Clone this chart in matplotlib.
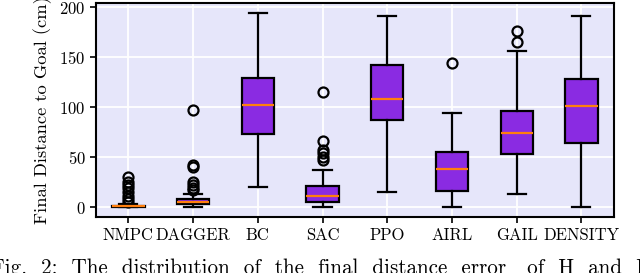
import matplotlib
matplotlib.use("Agg")
import matplotlib.pyplot as plt

# ── style ──────────────────────────────────────────────────────────────
plt.rcParams.update({
    "font.family":               "serif",
    "font.serif":                ["cmr10"],
    "mathtext.fontset":          "cm",
    "axes.formatter.use_mathtext": True,
    "font.size":                 12,
})

# ── data ───────────────────────────────────────────────────────────────
methods = ["NMPC", "DAGGER", "BC", "SAC", "PPO", "AIRL", "GAIL", "DENSITY"]
q1      = [0.0, 3.0, 73, 5.5, 87, 16, 53, 64]
median  = [1.0, 5.5, 102, 11.5, 108, 38, 74, 101]
q3      = [1.5, 8.0, 129, 21, 142, 55, 96, 128]
whislo  = [0.0, 0.0, 20, 0.0, 15, 0.0, 13, 0.0]
whishi  = [3.0, 13.5, 194, 37, 191, 94, 156, 191]
fliers  = [
    [30, 25, 22, 19, 15, 11, 8, 5],
    [97, 42, 40, 25, 22, 19, 17],
    [],
    [115, 66, 57, 54, 50, 47],
    [],
    [144],
    [176, 165],
    [],
]

C_BG     = "#E6E6FA"
C_BOX    = "#8A2BE2"
C_MEDIAN = "#FF7F0E"

stats = [dict(label=m, q1=a, med=b, q3=c, whislo=d, whishi=e, fliers=f)
         for m, a, b, c, d, e, f in zip(methods, q1, median, q3,
                                        whislo, whishi, fliers)]

# ── figure ─────────────────────────────────────────────────────────────
fig = plt.figure(figsize=(6.4, 2.73), dpi=100)
ax = fig.add_axes([0.15, 0.205, 0.809, 0.784])
ax.set_facecolor(C_BG)
ax.grid(True, color="white", lw=1.3)
ax.set_axisbelow(True)

ax.bxp(stats, widths=0.5, patch_artist=True, capwidths=0.28,
       boxprops=dict(facecolor=C_BOX, edgecolor="black", lw=1.6),
       medianprops=dict(color=C_MEDIAN, lw=1.6),
       whiskerprops=dict(color="black", lw=1.6),
       capprops=dict(color="black", lw=1.6),
       flierprops=dict(marker="o", markerfacecolor="none",
                       markeredgecolor="black", markersize=7.2, mew=1.6))

ax.set_xlim(0.5, 8.5)
ax.set_ylim(-10, 204)
ax.set_yticks([0, 50, 100, 150, 200])
ax.set_ylabel("Final Distance to Goal (cm)", fontsize=13.3, labelpad=5)
for s in ax.spines.values():
    s.set_linewidth(1.5)
ax.tick_params(width=1.2, length=4)

# caption, cut off by the bottom edge as in the source
fig.text(-0.014, -0.004,
         "Fig.  2:  The  distribution  of  the  final  distance  error   of  H  and  F",
         ha="left", va="baseline", fontsize=15.2)

fig.savefig("out.png", dpi=100)
